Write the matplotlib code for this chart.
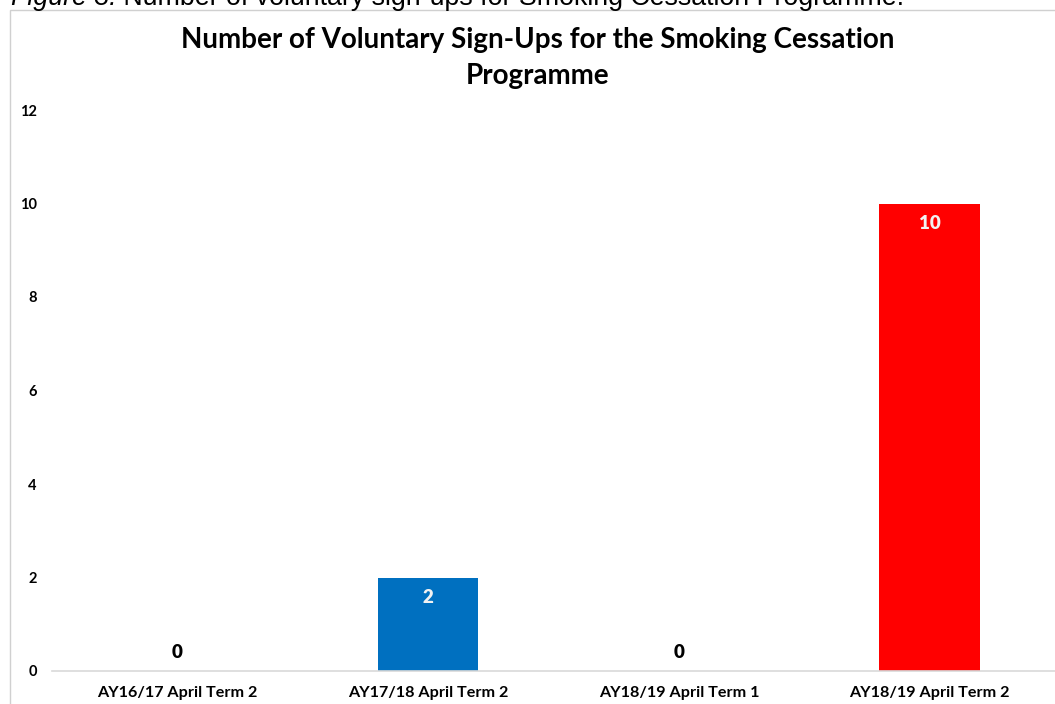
import matplotlib
matplotlib.use("Agg")
import matplotlib.pyplot as plt
from matplotlib.patches import Rectangle

# chart data
categories = ["AY16/17 April Term 2", "AY17/18 April Term 2",
              "AY18/19 April Term 1", "AY18/19 April Term 2"]
signups = [0, 2, 0, 10]
bar_colors = ["#0070c0", "#0070c0", "#0070c0", "#ff0000"]
yticks = [0, 2, 4, 6, 8, 10, 12]

title = "Number of Voluntary Sign-Ups for the Smoking Cessation\nProgramme"
caption_a = "Figure 3:"
caption_b = " Number of voluntary sign-ups for Smoking Cessation Programme."

W, H = 1055, 704
fig = plt.figure(figsize=(W / 100, H / 100), dpi=100)
ax = fig.add_axes([52 / W, 33 / H, 1 - 52 / W, 561 / H])

x = list(range(len(categories)))
bars = ax.bar(x, signups, width=0.4, color=bar_colors, zorder=2)

for b, v in zip(bars, signups):
    cx = b.get_x() + b.get_width() / 2
    if v == 0:
        ax.annotate(str(v), (cx, v), xytext=(0, 7), textcoords="offset points",
                    ha="center", va="bottom", fontsize=13.5, fontweight="heavy",
                    family="Lato", color="black")
    else:
        ax.annotate(str(v), (cx, v), xytext=(0, -8), textcoords="offset points",
                    ha="center", va="top", fontsize=13.5, fontweight="heavy",
                    family="Lato", color="#f2f2f2")

ax.set_xlim(-0.5, 3.5)
ax.set_ylim(0, 12)
ax.set_yticks(yticks)
ax.set_yticklabels([str(t) for t in yticks], fontsize=10.5, fontweight="bold", family="Lato")
ax.set_xticks(x)
ax.set_xticklabels(categories, fontsize=11.6, fontweight="bold", family="Lato")
ax.tick_params(axis="both", length=0)
ax.tick_params(axis="y", pad=11)
ax.tick_params(axis="x", pad=11)
for s in ["top", "right", "left"]:
    ax.spines[s].set_visible(False)
ax.spines["bottom"].set_color("#d9d9d9")
ax.spines["bottom"].set_linewidth(1.2)

fig.text(538 / W, 1 - 58 / H, title, ha="center", va="center", fontsize=20,
         fontweight="bold", family="Lato", linespacing=1.52)

# chart frame
fig.patches.append(Rectangle((10 / W, -0.1), 1.2, 1 - 10 / H + 0.1,
                             transform=fig.transFigure, fill=False,
                             edgecolor="#d0d0d0", linewidth=1))

# caption cut off at the top, as in the source page
r = fig.canvas.get_renderer()
t1 = fig.text(11 / W, 1 - 5 / H, caption_a, ha="left", va="baseline",
              fontsize=19.3, style="italic", family="Liberation Sans")
bb = t1.get_window_extent(renderer=r)
fig.text(bb.x1 / W, 1 - 5 / H, caption_b, ha="left", va="baseline",
         fontsize=19.3, family="Liberation Sans")

fig.savefig("out.png", dpi=100)
